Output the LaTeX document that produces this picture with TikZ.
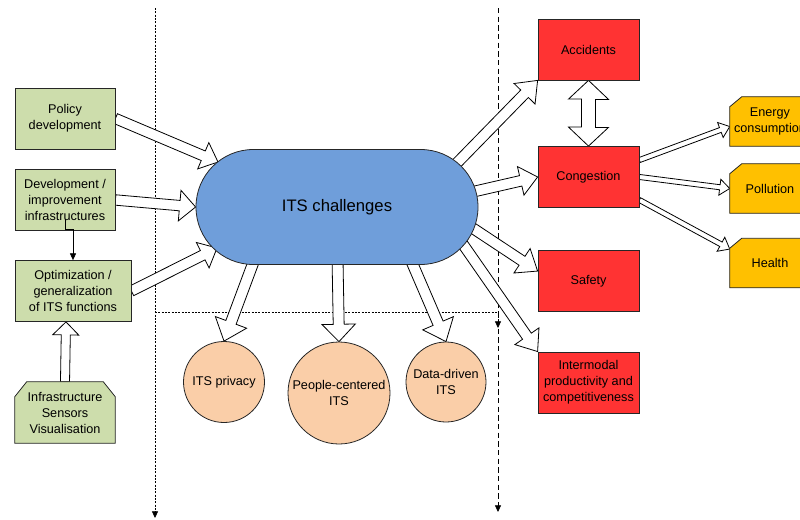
\documentclass[tikz,border=0pt]{standalone}
\usepackage{fontspec}
\setmainfont{Liberation Sans}
\usetikzlibrary{positioning,calc,arrows.meta,backgrounds}

\definecolor{greenfill}{RGB}{205,221,172}
\definecolor{bluefill}{RGB}{111,158,218}
\definecolor{peachfill}{RGB}{250,206,168}
\definecolor{redfill}{RGB}{255,51,51}
\definecolor{orangefill}{RGB}{255,192,0}

% hollow block arrow: start, tip, half shaft, half head, head length
\newcommand{\blockarrow}[5]{%
  \coordinate (ba-a) at #1;
  \coordinate (ba-b) at #2;
  \coordinate (ba-n) at ($(ba-b)!#5!(ba-a)$);
  \draw[hollow] ($(ba-a)!#3!90:(ba-b)$) -- ($(ba-n)!#3!90:(ba-b)$) -- ($(ba-n)!#4!90:(ba-b)$)
    -- (ba-b) -- ($(ba-n)!#4!-90:(ba-b)$) -- ($(ba-n)!#3!-90:(ba-b)$) -- ($(ba-a)!#3!-90:(ba-b)$) -- cycle;
}

\begin{document}
\begin{tikzpicture}[
  x=0.75pt, y=-0.75pt,
  every node/.style={font=\fontsize{9.5}{12}\selectfont, align=center, inner sep=1pt},
  greenbox/.style={rectangle, draw=black!85, line width=0.6pt, fill=greenfill, minimum width=75pt, minimum height=45.75pt},
  chamfnode/.style={rectangle, minimum width=75pt, minimum height=45.75pt},
  challenge/.style={rectangle, rounded corners=43pt, draw=black!85, line width=0.6pt, fill=bluefill, minimum width=211.5pt, minimum height=86.25pt, font=\fontsize{12.5}{15}\selectfont},
  topic/.style={circle, draw=black!85, line width=0.6pt, fill=peachfill, inner sep=0pt},
  redbox/.style={rectangle, draw=black!85, line width=0.6pt, fill=redfill, minimum width=75.75pt, minimum height=45.75pt},
  orangebox/.style={rectangle, minimum width=60pt, minimum height=36.75pt},
  boxline/.style={draw=black!85, line width=0.6pt, line join=miter},
  hollow/.style={draw=black, line width=0.6pt, fill=white, line join=miter},
  fineline/.style={draw=black, line width=0.5pt, dash pattern=on 1.5pt off 1pt},
  coarseline/.style={draw=black, line width=0.5pt, dash pattern=on 4pt off 2.5pt},
  tip/.style={-{Triangle[length=5pt,width=4.5pt]}}
]
\path[use as bounding box, clip] (0,0) rectangle (800,519);

\node[greenbox] (policy) at (65,118.5) {Policy\\development};
\node[greenbox, below of=policy, node distance=61.1pt] (devinfra) {Development /\\improvement\\infrastructures};
\node[greenbox, minimum width=87pt] (optim) at (73,291) {Optimization /\\generalization\\of ITS functions};
\node[chamfnode] (sensors) at (65,412.5) {Infrastructure\\Sensors\\Visualisation};

\node[challenge] (its) at (337,207) {ITS challenges};

\node[topic, minimum size=60.75pt] (privacy) at (224,382) {ITS privacy};
\node[topic, minimum size=76.5pt] (people) at (339,393) {People-centered\\ITS};
\node[topic, minimum size=60pt] (datadriven) at (446,382) {Data-driven\\ITS};

\node[redbox] (accidents) at (588.5,49.5) {Accidents};
\node[redbox, below of=accidents, node distance=95.6pt] (congestion) {Congestion};
\node[redbox, below of=congestion, node distance=78pt] (safety) {Safety};
\node[redbox, below of=safety, node distance=76.1pt] (intermodal) {Intermodal\\productivity and\\competitiveness};

\node[orangebox] (energy) at (770,121.5) {Energy\\consumption};
\node[orangebox, below of=energy, node distance=50.25pt] (pollution) {Pollution};
\node[orangebox, below of=pollution, node distance=55.9pt] (health) {Health};

\draw[tip] ($(devinfra.south)+(0,-12)$) -- ++(0,10) -| (optim.north);

\begin{scope}[on background layer]
  \clip (0,0) rectangle (800,519);
  % dashed guide lines
  \coordinate (leftTop) at (155,8);
  \coordinate (leftEnd) at (155,518);
  \coordinate (rightTop) at (498,8);
  \coordinate (rightEnd) at (498,512);
  \coordinate (splitL) at (155,312);
  \coordinate (splitR) at (498,328);
  \draw[fineline, tip] (leftTop) -- (leftEnd);
  \draw[coarseline, tip] (rightTop) -- (rightEnd);
  \draw[fineline, tip] (splitL) -| (splitR);

  % inputs
  \blockarrow{(policy.east)}{($(its)+(-119,-45)$)}{3.9pt}{10.7pt}{12pt}
  \blockarrow{(devinfra.east)}{(its.west)}{3.9pt}{11.5pt}{12pt}
  \blockarrow{(optim.east)}{($(its)+(-120,41)$)}{3.9pt}{10.7pt}{12pt}
  \blockarrow{(sensors.north)}{($(optim.south)+(-7,0)$)}{3.4pt}{9.75pt}{9.75pt}

  % outcomes
  \blockarrow{($(its)+(-82,51)$)}{(privacy.north)}{4.1pt}{12.5pt}{15pt}
  \blockarrow{($(its)+(0.5,51)$)}{(people.north)}{4.1pt}{12.5pt}{13pt}
  \blockarrow{($(its)+(73,51)$)}{(datadriven.north)}{4.1pt}{12.5pt}{15pt}

  % effects
  \blockarrow{($(its)+(118,-42)$)}{(accidents.south west)}{4pt}{11pt}{14pt}
  \blockarrow{($(its)+(135,-15)$)}{(congestion.west)}{4pt}{11pt}{13pt}
  \blockarrow{($(its)+(131,18)$)}{($(safety.north west)+(0,21)$)}{4pt}{11pt}{14pt}
  \blockarrow{($(its)+(123,33)$)}{(intermodal.north west)}{4pt}{11pt}{14pt}
  \draw[hollow] (accidents.south) -- ++(20,19) -- ++(-13,0) -- ++(0,28) -- ++(13,0) -- (congestion.north)
    -- ++(-20,-19) -- ++(13,0) -- ++(0,-28) -- ++(-13,0) -- cycle;

  \blockarrow{($(congestion.north east)+(0,14)$)}{($(energy.west)+(0,5)$)}{1.9pt}{6pt}{7.5pt}
  \blockarrow{(congestion.east)}{(pollution.west)}{1.9pt}{6pt}{7.5pt}
  \blockarrow{($(congestion.east)+(0,23)$)}{($(health.west)+(0,-14)$)}{1.9pt}{6pt}{7.5pt}

  % chamfered boxes
  \draw[boxline, fill=greenfill] (sensors.south west) -- ($(sensors.north west)+(0,15)$) -- ($(sensors.north west)+(12,0)$)
    -- ($(sensors.north east)+(-12,0)$) -- ($(sensors.north east)+(0,15)$) -- (sensors.south east) -- cycle;
  \foreach \b in {energy,pollution,health}
    \draw[boxline, fill=orangefill] (\b.south west) -- ($(\b.north west)+(0,10)$) -- ($(\b.north west)+(12,0)$)
      -- ($(\b.north east)+(40,0)$) -- ($(\b.south east)+(40,0)$) -- cycle;
\end{scope}
\end{tikzpicture}
\end{document}
